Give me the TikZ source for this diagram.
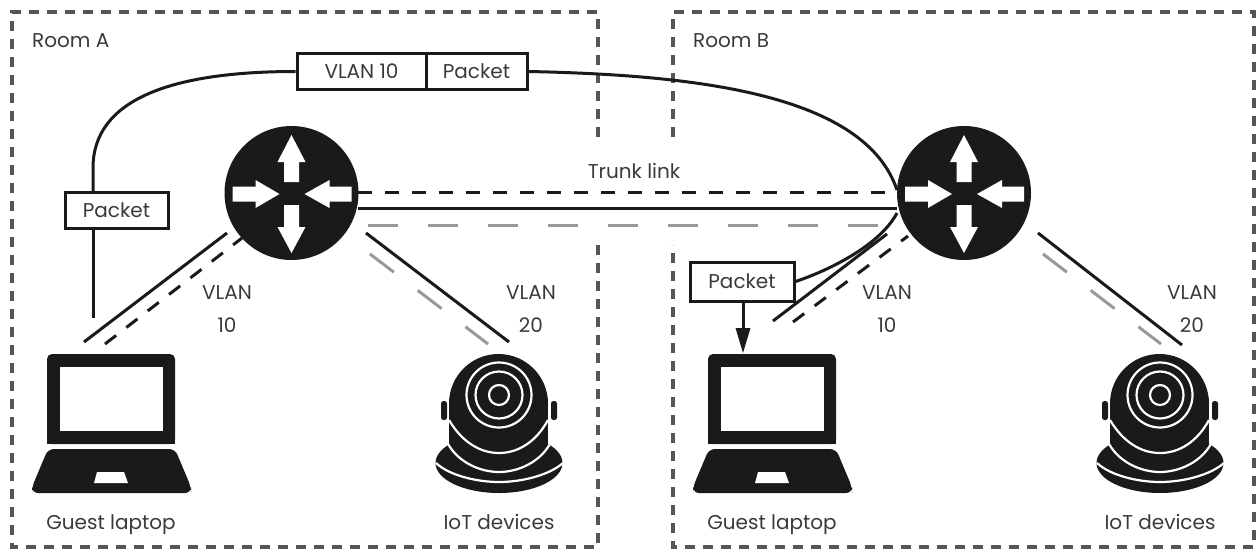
\documentclass[tikz,border=0pt]{standalone}
\usepackage{fontspec}
\setmainfont{Poppins}
\definecolor{ink}{HTML}{1A1A1A}
\definecolor{txt}{HTML}{3A3A3A}
\definecolor{bord}{HTML}{555555}
\definecolor{lgrey}{HTML}{999999}
\tikzset{
  lbl/.style={text=txt,font=\fontsize{20}{22}\selectfont,inner sep=0pt,anchor=base},
  room/.style={bord,line width=3.4pt,dash pattern=on 10pt off 8pt},
  wire/.style={ink,line width=3pt},
  blackdash/.style={ink,line width=3pt,dash pattern=on 14pt off 13pt},
  greydash/.style={lgrey,line width=3pt,dash pattern=on 30pt off 30pt},
  pktbox/.style={draw=ink,line width=3pt,fill=white,text=txt,font=\fontsize{20}{22}\selectfont,inner sep=0pt,minimum height=36pt,text height=14pt,text depth=0pt,anchor=center},
  router/.style={circle,fill=ink,minimum size=134pt,inner sep=0pt},
  whitearc/.style={white,line width=2.2pt}
}
\newcommand{\arrowsin}[2]{%
\begin{scope}[shift={(#1,#2)},white,fill=white]
 \fill (0,-58) -- (14,-31) -- (7.5,-31) -- (7.5,-11) -- (-7.5,-11) -- (-7.5,-31) -- (-14,-31) -- cycle;
 \fill (0,60) -- (14,34) -- (7.5,34) -- (7.5,12) -- (-7.5,12) -- (-7.5,34) -- (-14,34) -- cycle;
 \fill (-12,1) -- (-36,15) -- (-36,8.5) -- (-59,8.5) -- (-59,-6.5) -- (-36,-6.5) -- (-36,-13) -- cycle;
 \fill (13,1) -- (38,15) -- (38,8.5) -- (60,8.5) -- (60,-6.5) -- (38,-6.5) -- (38,-13) -- cycle;
\end{scope}}
\newcommand{\laptopicon}[1]{%
\begin{scope}[shift={(#1,0)}]
 \fill[ink,rounded corners=5pt] (47,444) -- (47,354) -- (175,354) -- (175,444) -- cycle;
 \fill[ink] (47,438) rectangle (175,444);
 \fill[white] (60,367) rectangle (163,431);
 \fill[ink,rounded corners=6pt] (48,449) -- (175,449) -- (191,487) -- (191,493) -- (32,493) -- (32,487) -- cycle;
 \fill[white] (97,472) -- (124,472) -- (128,483) -- (94,483) -- cycle;
\end{scope}}
\newcommand{\cameraicon}[1]{%
\begin{scope}[shift={(#1,0)}]
 \fill[ink] (499,463) ellipse [x radius=63.5,y radius=30];
 \fill[ink] (449,403) rectangle (548,470);
 \fill[ink] (498.5,403.5) circle [radius=49.5];
 \fill[ink,rounded corners=2.5pt] (441,401) rectangle (447,420);
 \fill[ink,rounded corners=2.5pt] (551,401) rectangle (557,420);
 \draw[whitearc] (499,395) circle [radius=32.5];
 \draw[whitearc] (499,395) circle [radius=23.5];
 \draw[whitearc] (499,395) circle [radius=10];
 \draw[whitearc] (449,420) .. controls (462,442) and (480,453) .. (499,453) .. controls (518,453) and (536,442) .. (548,420);
 \draw[whitearc] (446,440) .. controls (456,462) and (480,472) .. (499,472) .. controls (518,472) and (542,462) .. (552,440);
 \draw[whitearc] (436,463) .. controls (450,476) and (478,482) .. (499,482) .. controls (520,482) and (548,476) .. (563,463);
\end{scope}}
\begin{document}
\begin{tikzpicture}[x=1pt,y=-1pt]
\useasboundingbox (0,0) rectangle (1257,550);
% rooms
\coordinate (a1) at (598,137);
\coordinate (a2) at (598,12);
\coordinate (a3) at (12,12);
\coordinate (a4) at (12,547);
\coordinate (a5) at (598,547);
\coordinate (a6) at (598,245);
\draw[room] (a1) -- (a2) -- (a3) -- (a4) -- (a5) -- (a6);
\coordinate (b1) at (673,137);
\coordinate (b2) at (673,12);
\coordinate (b3) at (1254,12);
\coordinate (b4) at (1254,547);
\coordinate (b5) at (673,547);
\coordinate (b6) at (673,245);
\draw[room] (b1) -- (b2) -- (b3) -- (b4) -- (b5) -- (b6);
\node[lbl,anchor=base west] (rooma) at (32,47) {Room A};
\node[lbl,anchor=base west] (roomb) at (693,47) {Room B};
% routers
\node[router] (ra) at (291.5,193) {};
\node[router] (rb) at (964,193) {};
% trunk
\coordinate (t1a) at (358,192); \coordinate (t1b) at (897,192);
\coordinate (t2a) at (358,208.5); \coordinate (t2b) at (897,208.5);
\coordinate (t3a) at (368,225); \coordinate (t3b) at (900,225);
\draw[blackdash] (t1a) -- (t1b);
\draw[wire] (t2a) -- (t2b);
\draw[greydash] (t3a) -- (t3b);
\node[lbl] (trunk) at (634,178) {Trunk link};
% packet boxes
\node[pktbox,minimum width=103pt] (p1) at (116.5,210) {Packet};
\node[pktbox,minimum width=129pt] (v10) at (361.5,71.5) {VLAN 10};
\node[pktbox,minimum width=101pt] (p2) at (476.5,71.5) {Packet};
\node[pktbox,minimum width=104pt,minimum height=39pt] (p3) at (742,281.5) {Packet};
% packet path
\coordinate (la) at (93,318);
\coordinate (p1b) at (93,228);
\coordinate (p1t) at (93,192);
\draw[wire] (la) -- (p1b);
\draw[wire] (p1t) -- (93,168) .. controls (93,100) and (170,71.5) .. (v10.west);
\draw[wire] (p2.east) .. controls (700,75) and (865,95) .. (897,190);
\draw[wire] (p3.east) .. controls (830,270) and (880,245) .. (897,213);
\coordinate (lbtop) at (743,353);
\draw[wire] (p3.south -| lbtop) -- (743,330);
\fill[ink] (735.5,328) -- (750.5,328) -- (743,353) -- cycle;
% VLAN links A
\coordinate (s1) at (84,342); \coordinate (s2) at (227,233);
\coordinate (d1) at (105,344); \coordinate (d2) at (242,238);
\draw[wire] (s1) -- (s2);
\draw[blackdash] (d1) -- (d2);
\coordinate (s3) at (366,233); \coordinate (s4) at (509,342);
\coordinate (g1) at (370,254); \coordinate (g2) at (488,344);
\draw[wire] (s3) -- (s4);
\draw[greydash] (g1) -- (g2);
% VLAN links B
\coordinate (s5) at (773,321); \coordinate (s6) at (887,234);
\coordinate (d3) at (793,322); \coordinate (d4) at (908,236);
\draw[wire] (s5) -- (s6);
\draw[blackdash] (d3) -- (d4);
\coordinate (s7) at (1038,233); \coordinate (s8) at (1182,345);
\coordinate (g3) at (1043,254); \coordinate (g4) at (1161,344);
\draw[wire] (s7) -- (s8);
\draw[greydash] (g3) -- (g4);
% router arrows
\arrowsin{291.5}{193}
\arrowsin{964}{193}
% icons
\laptopicon{0}
\laptopicon{661}
\cameraicon{0}
\cameraicon{661}
% labels
\node[lbl] (va1) at (227,299) {VLAN};
\node[lbl] (va2) at (227,332) {10};
\node[lbl] (va3) at (531,299) {VLAN};
\node[lbl] (va4) at (531,332) {20};
\node[lbl] (vb1) at (887,299) {VLAN};
\node[lbl] (vb2) at (887,332) {10};
\node[lbl] (vb3) at (1192,299) {VLAN};
\node[lbl] (vb4) at (1192,332) {20};
\node[lbl] (gl1) at (111,529) {Guest laptop};
\node[lbl] (gl2) at (772,529) {Guest laptop};
\node[lbl] (io1) at (499,529) {IoT devices};
\node[lbl] (io2) at (1160,529) {IoT devices};
\end{tikzpicture}
\end{document}
